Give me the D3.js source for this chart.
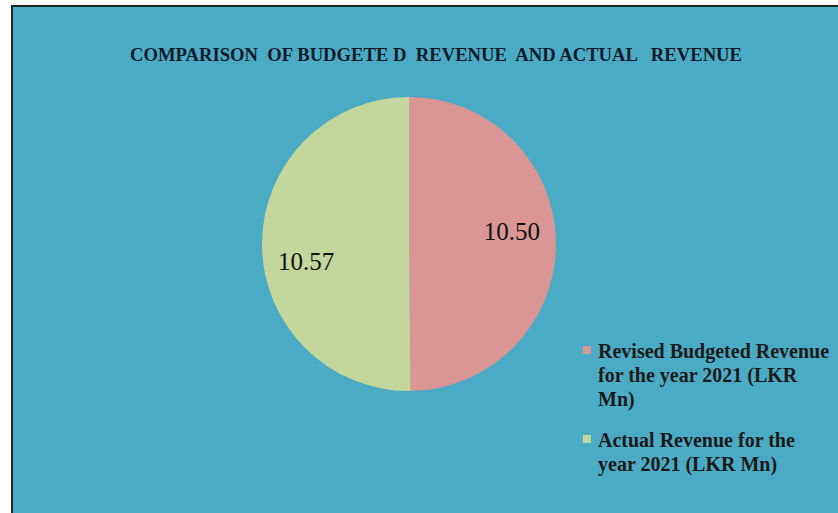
<!DOCTYPE html>
<meta charset="utf-8">
<head>
  <title>Budgeted vs Actual Revenue</title>
</head>
<style>
body { margin: 0; background: #fff; }
.title { font-family: "Liberation Serif", serif; font-weight: bold; white-space: pre; }
.lbl { font-family: "Liberation Serif", serif; }
.legend text { font-family: "Liberation Serif", serif; font-weight: bold; }
</style>
<body>
<script src="https://d3js.org/d3.v7.min.js"></script>
<script>

// data
var categories = ["Revised Budgeted Revenue for the year 2021 (LKR Mn)",
                  "Actual Revenue for the year 2021 (LKR Mn)"];
var values = [10.50, 10.57];
var legendLines = [["Revised Budgeted Revenue", "for the year 2021 (LKR", "Mn)"],
                   ["Actual Revenue for the", "year 2021 (LKR Mn)"]];
var colors = ["#d99694", "#c3d69b"];
var titleText = "COMPARISON  OF BUDGETE D  REVENUE  AND ACTUAL   REVENUE";

var width = 838, height = 513;

var svg = d3.select("body").append("svg")
    .attr("width", width)
    .attr("height", height);

// chart area frame
svg.append("rect")
    .attr("x", 12).attr("y", 6)
    .attr("width", width).attr("height", height)
    .attr("fill", "#4babc5")
    .attr("stroke", "#222")
    .attr("stroke-width", 2);

// title
svg.append("text")
    .attr("class", "title")
    .attr("x", 130)
    .attr("y", 61)
    .attr("font-size", 19)
    .attr("textLength", 612)
    .attr("lengthAdjust", "spacingAndGlyphs")
    .attr("fill", "#111a2b")
    .text(titleText);

// pie
var cx = 409, cy = 244, r = 147;
var pie = d3.pie().sort(null).value(function(d) { return d; });
var arc = d3.arc().innerRadius(0).outerRadius(r);
var labelArc = d3.arc().innerRadius(r * 0.7).outerRadius(r * 0.7);
var arcs = pie(values);

var g = svg.append("g").attr("transform", "translate(" + cx + "," + cy + ")");

g.selectAll("path")
    .data(arcs)
  .enter().append("path")
    .attr("d", arc)
    .attr("fill", function(d, i) { return colors[i]; });

// value labels
var labelDy = [-4, 26];
g.selectAll("text.lbl")
    .data(arcs)
  .enter().append("text")
    .attr("class", "lbl")
    .attr("x", function(d) { return labelArc.centroid(d)[0]; })
    .attr("y", function(d, i) { return labelDy[i]; })
    .attr("text-anchor", "middle")
    .attr("font-size", 25)
    .attr("fill", "#111")
    .text(function(d) { return d3.format(".2f")(d.data); });

// legend
var legend = svg.append("g").attr("class", "legend");
var entryY = [358, 447];
legendLines.forEach(function(lines, i) {
  legend.append("rect")
      .attr("x", 583).attr("y", entryY[i] - 12)
      .attr("width", 8).attr("height", 8)
      .attr("fill", colors[i]);
  lines.forEach(function(t, j) {
    legend.append("text")
        .attr("x", 598)
        .attr("y", entryY[i] + j * 24)
        .attr("font-size", 20)
        .attr("fill", "#1a1a1a")
        .text(t);
  });
});

</script>
</body>
